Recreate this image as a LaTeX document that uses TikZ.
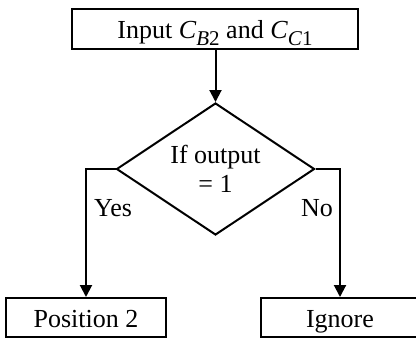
\documentclass[tikz,border=0pt]{standalone}
\usepackage{fontspec}
\setmainfont{Liberation Serif}
\usetikzlibrary{shapes.geometric,arrows.meta}

% subscript set a little smaller and lowered, as in C_{B2}
\newcommand{\lowsub}[1]{\raisebox{-0.55ex}{\fontsize{10.5}{11}\selectfont #1}}

\begin{document}
\begin{tikzpicture}[x=0.5pt,y=-0.5pt,
  every node/.style={font=\fontsize{13}{14.5}\selectfont},
  procbox/.style={draw,line width=1pt,rectangle,inner sep=0pt,
    text height=9.5pt,text depth=0pt,minimum height=19.5pt},
  decision/.style={draw,line width=1pt,diamond,aspect=1.5,inner sep=0pt,
    minimum width=99pt,minimum height=66pt,align=center},
  flow/.style={line width=1pt,-{Triangle[length=6pt,width=6pt]}},
  branch/.style={inner sep=0pt}]
  \useasboundingbox (0,0) rectangle (416,338);

  \node[procbox,minimum width=143pt,minimum height=20pt] (input) at (215,29)
    {Input \textit{C}\lowsub{\textit{B}2} and \textit{C}\lowsub{\textit{C}1}};
  \node[decision] (test) at (215.5,169) {If output\\= 1};
  \node[procbox,minimum width=80pt] (pos) at (86,317.5) {Position 2};
  \node[procbox,minimum width=79pt] (ign) at (340,317.5) {Ignore};

  \node[branch] (yes) at (113,208) {Yes};
  \node[branch] (no) at (317,208) {No};

  \draw[flow] (input.south -| test.north) -- (test.north);
  \draw[flow] (test.west) -| (pos.north);
  \draw[flow] (test.east) -| (ign.north);
\end{tikzpicture}
\end{document}
